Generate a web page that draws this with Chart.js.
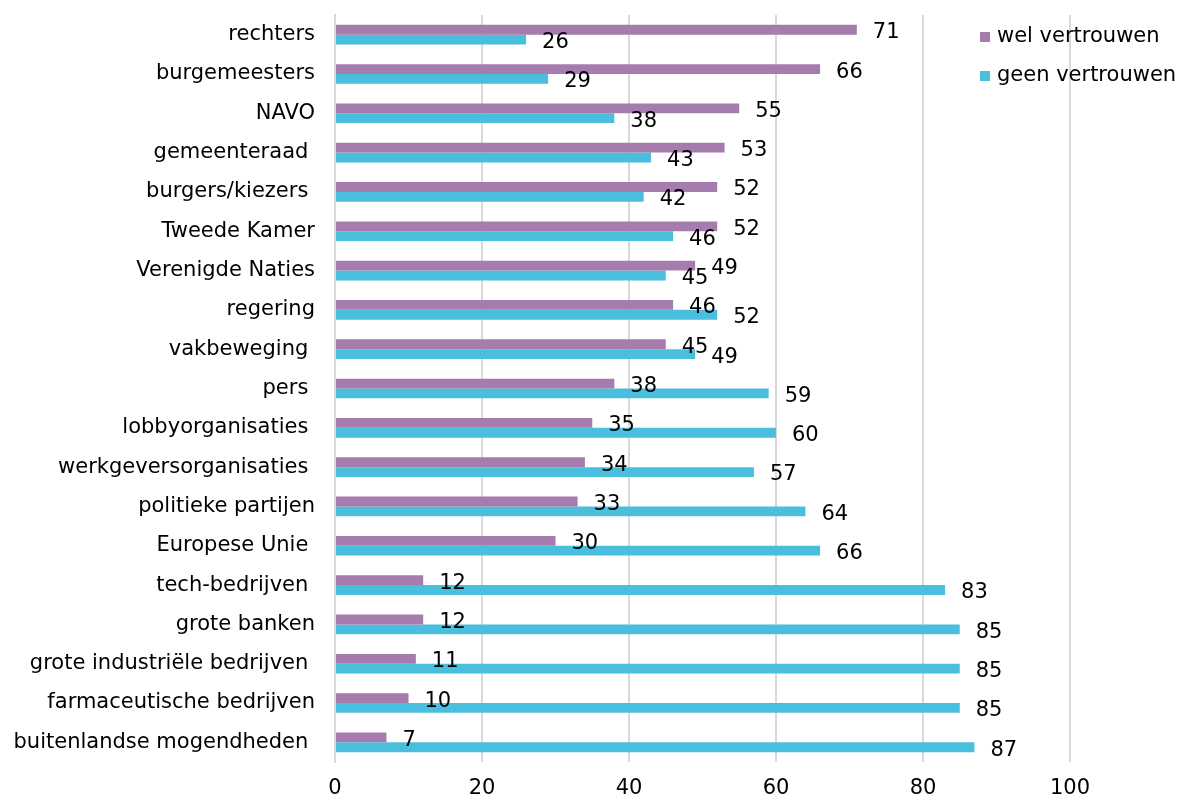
<!DOCTYPE html>
<html><head><meta charset="utf-8">
<script src="https://cdn.jsdelivr.net/npm/chart.js@4.4.1/dist/chart.umd.min.js"></script>
<style>html,body{margin:0;padding:0;background:#fff}#wrap{width:1180px;height:800px}</style>
</head><body><div id="wrap"><canvas id="c" width="1180" height="800"></canvas></div>
<script>
const categories = ["rechters","burgemeesters","NAVO","gemeenteraad ","burgers/kiezers ","Tweede Kamer","Verenigde Naties","regering","vakbeweging ","pers ","lobbyorganisaties ","werkgeversorganisaties ","politieke partijen","Europese Unie ","tech-bedrijven ","grote banken","grote industriële bedrijven ","farmaceutische bedrijven","buitenlandse mogendheden "];
const welVertrouwen = [71,66,55,53,52,52,49,46,45,38,35,34,33,30,12,12,11,10,7];
const geenVertrouwen = [26,29,38,43,42,46,45,52,49,59,60,57,64,66,83,85,85,85,87];
const seriesNames = ["wel vertrouwen","geen vertrouwen"];
const xTicks = [0,20,40,60,80,100];

const FONT = "DejaVu Sans, Verdana, sans-serif";
const FS = 21;
const colors = ["#A67BAE","#4ABEDD"];

const labelPlugin = {
  id:'valueLabels',
  afterDatasetsDraw(chart){
    const ctx = chart.ctx;
    ctx.save();
    ctx.font = FS + "px " + FONT;
    ctx.fillStyle = "#000";
    ctx.textAlign = "left";
    ctx.textBaseline = "middle";
    chart.data.datasets.forEach((ds,i)=>{
      const meta = chart.getDatasetMeta(i);
      meta.data.forEach((el,j)=>{
        ctx.fillText(String(ds.data[j]), el.x + 16, el.y + 3);
      });
    });
    ctx.restore();
  }
};
const legendPlugin = {
  id:'customLegend',
  afterDraw(chart){
    const ctx = chart.ctx;
    ctx.save();
    ctx.font = FS + "px " + FONT;
    ctx.textAlign = "left";
    ctx.textBaseline = "middle";
    seriesNames.forEach((n,i)=>{
      const y = 37 + i*39;
      ctx.fillStyle = colors[i];
      ctx.fillRect(980, y-5, 10, 10);
      ctx.fillStyle = "#000";
      ctx.fillText(n, 997, y);
    });
    ctx.restore();
  }
};

new Chart(document.getElementById('c'),{
  type:'bar',
  data:{
    labels:categories,
    datasets:[
      {label:seriesNames[0],data:welVertrouwen,backgroundColor:colors[0],categoryPercentage:0.5,barPercentage:1},
      {label:seriesNames[1],data:geenVertrouwen,backgroundColor:colors[1],categoryPercentage:0.5,barPercentage:1}
    ]
  },
  options:{
    indexAxis:'y',
    responsive:false,
    animation:false,
    layout:{padding:{top:15,right:110,left:0,bottom:0}},
    plugins:{legend:{display:false},tooltip:{enabled:false}},
    scales:{
      x:{
        min:0,max:100,
        afterBuildTicks(s){ s.ticks = xTicks.map(v=>({value:v})); },
        afterFit(s){ s.height = 38; },
        grid:{color:"#D9D9D9",lineWidth:2,drawTicks:false},
        border:{display:false},
        ticks:{font:{family:FONT,size:FS},color:"#000",padding:14}
      },
      y:{
        afterFit(s){ s.width = 335; s.paddingTop = 0; s.paddingBottom = 0; },
        grid:{display:false,drawTicks:false},
        border:{display:true,color:"#D9D9D9",width:2},
        ticks:{font:{family:FONT,size:FS},color:"#000",padding:20,autoSkip:false}
      }
    }
  },
  plugins:[labelPlugin,legendPlugin]
});
</script></body></html>
